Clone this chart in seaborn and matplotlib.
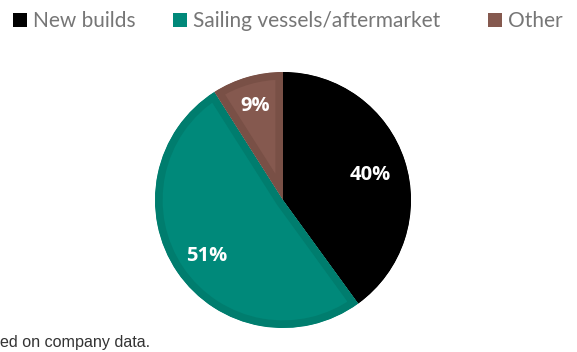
import matplotlib
matplotlib.use("Agg")
import matplotlib.pyplot as plt
from matplotlib.patches import Patch
import seaborn as sns

# Revenue split by segment
segments = ["New builds", "Sailing vessels/aftermarket", "Other"]
shares = [40, 51, 9]
fill_colors = ["#000000", "#00897A", "#85594F"]
edge_colors = ["#000000", "#007D6E", "#795046"]
source_note = "ed on company data."

sns.set_theme(style="white")
plt.rcParams["font.family"] = ["Open Sans", "DejaVu Sans"]

W, H = 577, 352
fig = plt.figure(figsize=(W / 100, H / 100), dpi=100)

cx, cy, r = 283, 152, 128
ax = fig.add_axes([(cx - r) / W, (cy - r) / H, 2 * r / W, 2 * r / H])

wedges, texts, autotexts = ax.pie(
    shares,
    colors=fill_colors,
    startangle=90,
    counterclock=False,
    radius=1.0,
    autopct=lambda p: f"{p:.0f}%",
    pctdistance=0.72,
    wedgeprops=dict(linewidth=11),
    textprops=dict(color="white", fontsize=14.5, fontweight="bold"),
)
# Darker inner rim on each slice: edge clipped to the wedge itself
for w, ec in zip(wedges, edge_colors):
    w.set_edgecolor(ec)
    w.set_clip_on(True)
    w.set_clip_path(w)
# Nudge labels; the narrow slice sits its label slightly further out
for i, t in enumerate(autotexts):
    x, y = t.get_position()
    k = 1.1 if i == 2 else 1.0
    t.set_position((x * k, y * k - 0.03))

ax.set_xlim(-1, 1)
ax.set_ylim(-1, 1)
ax.set_aspect("equal")
ax.axis("off")

# One legend entry per segment, laid out along the top
entry_x = [13, 173, 488]
for name, color, x0 in zip(segments, fill_colors, entry_x):
    leg = fig.legend(
        [Patch(facecolor=color, edgecolor="none")], [name],
        loc="center left", bbox_to_anchor=(x0 / W, 0.94),
        frameon=False,
        prop=dict(family=["Lato", "DejaVu Sans"], size=15),
        handlelength=0.67, handleheight=0.67, handletextpad=0.28,
        borderaxespad=0, borderpad=0,
    )
    for t in leg.get_texts():
        t.set_color("#767676")

fig.text(0.0, 10 / H, source_note, fontsize=11.6, color="#333333",
         family=["Liberation Sans", "DejaVu Sans"], va="center", ha="left")

fig.savefig("out.png", dpi=100)
